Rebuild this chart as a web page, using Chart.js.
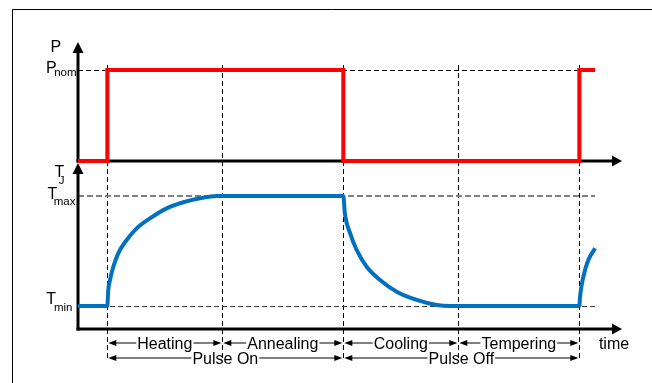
<!DOCTYPE html>
<html>
<head>
<meta charset="utf-8">
<script src="https://cdn.jsdelivr.net/npm/chart.js@4.4.1/dist/chart.umd.min.js"></script>
<style>
  html, body { margin: 0; padding: 0; background: #fff; }
</style>
</head>
<body>
<canvas id="pulseChart" width="652" height="383"></canvas>
<script>
"use strict";

// phase boundaries on the time axis: pulse on, heating end, pulse off, cooling end, next pulse
var phaseTimes = [2.55, 12.55, 23.07, 33.07, 43.59];
var phaseLabels = ["Heating", "Annealing", "Cooling", "Tempering"];
var pulseLabels = ["Pulse On", "Pulse Off"];

// power (0 = off, 1 = Pnom)
var powerTimes = [0, 2.55, 23.07, 43.59, 44.96];
var powerValues = [0, 1, 0, 1, 1];

// junction temperature (0 = Tmin, 1 = Tmax)
var tempTimes = [0, 2.55, 2.63, 2.78, 3.07, 3.5, 4.23, 5.1, 6.26, 7.71, 9.16, 10.61, 12.06,
  23.07, 23.2, 23.65, 24.23, 25.1, 26.26, 27.71, 29.45, 31.19, 32.35,
  43.59, 43.65, 43.94, 44.37, 44.96];
var tempValues = [0, 0, 0.145, 0.236, 0.357, 0.479, 0.6, 0.706, 0.797, 0.888, 0.943, 0.979, 1,
  1, 0.845, 0.664, 0.509, 0.357, 0.236, 0.13, 0.055, 0.009, 0,
  0, 0.085, 0.266, 0.418, 0.525];

// axis tick labels: [value, letter, subscript]
var powerTicks = [[1, "P", "nom"]];
var tempTicks = [[1, "T", "max"], [0, "T", "min"]];

var FONT = "'Liberation Sans', Arial, sans-serif";

function toPoints(xs, ys) {
  return xs.map(function(x, i) {
    return { x: x, y: ys[i] };
  });
}

function line(ctx, x1, y1, x2, y2) {
  ctx.beginPath();
  ctx.moveTo(x1, y1);
  ctx.lineTo(x2, y2);
  ctx.stroke();
}

// filled arrow head, tip at (x, y), pointing along (dx, dy)
function arrowHead(ctx, x, y, dx, dy, len, half) {
  var bx = x - dx * len;
  var by = y - dy * len;
  ctx.beginPath();
  ctx.moveTo(x, y);
  ctx.lineTo(bx - dy * half, by + dx * half);
  ctx.lineTo(bx + dy * half, by - dx * half);
  ctx.closePath();
  ctx.fill();
}

// letter with subscript; subscript right edge at subRight
function subLabel(ctx, main, sub, x, y, subRight, subY) {
  ctx.textBaseline = "alphabetic";
  ctx.font = "16px " + FONT;
  ctx.textAlign = "left";
  ctx.fillText(main, x, y);
  if (sub) {
    ctx.font = "11.5px " + FONT;
    ctx.textAlign = "right";
    ctx.fillText(sub, subRight, subY);
  }
}

// two-headed span arrow with a label in the middle
function spanArrow(ctx, x1, x2, y, text) {
  ctx.font = "16px " + FONT;
  var w = ctx.measureText(text).width;
  var cx = (x1 + x2) / 2;
  var a = x1 + 1;
  var b = x2 - 1;
  ctx.lineWidth = 1;
  line(ctx, a + 4, y, cx - w / 2 - 1, y);
  line(ctx, cx + w / 2 + 1, y, b - 4, y);
  arrowHead(ctx, a, y, -1, 0, 8, 3);
  arrowHead(ctx, b, y, 1, 0, 8, 3);
  ctx.textAlign = "center";
  ctx.textBaseline = "alphabetic";
  ctx.fillText(text, cx, y + 5.5);
}

var diagramPlugin = {
  id: "diagram",
  beforeDatasetsDraw: function(chart) {
    var ctx = chart.ctx;
    var area = chart.chartArea;
    var xs = chart.scales.x;
    var yP = chart.scales.yP;
    var yT = chart.scales.yT;
    var x0 = area.left;
    var pBase = yP.getPixelForValue(0);
    var xEnd = xs.getPixelForValue(powerTimes[powerTimes.length - 1]);

    ctx.save();
    // frame
    ctx.strokeStyle = "#000";
    ctx.lineWidth = 1;
    line(ctx, 12.5, 9.5, chart.width, 9.5);
    line(ctx, 12.5, 9.5, 12.5, chart.height);

    // dashed guides
    ctx.setLineDash([5, 3]);
    phaseTimes.forEach(function(t) {
      var x = Math.round(xs.getPixelForValue(t)) + 0.5;
      line(ctx, x, area.top + 23, x, area.bottom + 32);
    });
    var yNom = Math.round(yP.getPixelForValue(1)) + 0.5;
    line(ctx, x0, yNom, xEnd, yNom);
    ctx.strokeStyle = "#333";
    var yMin = Math.round(yT.getPixelForValue(0)) + 0.5;
    line(ctx, x0, yMin, xEnd, yMin);
    ctx.strokeStyle = "#808080";
    ctx.lineWidth = 2;
    ctx.setLineDash([6, 3]);
    var yMax = Math.round(yT.getPixelForValue(1));
    line(ctx, x0, yMax, xEnd, yMax);
    ctx.setLineDash([]);

    // axes with arrows
    ctx.strokeStyle = "#000";
    ctx.fillStyle = "#000";
    ctx.lineWidth = 3;
    line(ctx, x0, pBase + 1.5, x0, area.top + 9);
    arrowHead(ctx, x0, area.top, 0, -1, 11, 5.5);
    line(ctx, x0 - 1.5, pBase, area.right - 9, pBase);
    arrowHead(ctx, area.right, pBase, 1, 0, 10, 5.5);
    var tTop = pBase + 2;
    line(ctx, x0, area.bottom + 1.5, x0, tTop + 9);
    arrowHead(ctx, x0, tTop, 0, -1, 11, 5.5);
    line(ctx, x0 - 1.5, area.bottom, area.right - 9, area.bottom);
    arrowHead(ctx, area.right, area.bottom, 1, 0, 10, 5.5);
    ctx.restore();
  },
  afterDatasetsDraw: function(chart) {
    var ctx = chart.ctx;
    var area = chart.chartArea;
    var xs = chart.scales.x;
    var yP = chart.scales.yP;
    var yT = chart.scales.yT;
    var x0 = area.left;
    var pBase = yP.getPixelForValue(0);

    ctx.save();
    ctx.fillStyle = "#000";
    ctx.strokeStyle = "#000";

    // axis names
    subLabel(ctx, "P", null, x0 - 27.5, area.top + 9.5);
    subLabel(ctx, "T", "J", x0 - 23.5, pBase + 15.5, x0 - 13.5, pBase + 23);

    // level labels
    powerTicks.forEach(function(t) {
      var y = yP.getPixelForValue(t[0]);
      subLabel(ctx, t[1], t[2], x0 - 32, y + 2.5, x0 - 1.5, y + 6);
    });
    tempTicks.forEach(function(t, i) {
      var y = yT.getPixelForValue(t[0]);
      if (i === 0) {
        subLabel(ctx, t[1], t[2], x0 - 30.5, y + 3, x0 - 2.5, y + 9);
      } else {
        subLabel(ctx, t[1], t[2], x0 - 31.7, y - 2.5, x0 - 5.5, y + 5);
      }
    });

    // phase spans
    var px = phaseTimes.map(function(t) {
      return xs.getPixelForValue(t);
    });
    var row1 = area.bottom + 14;
    var row2 = area.bottom + 29;
    phaseLabels.forEach(function(label, i) {
      spanArrow(ctx, px[i], px[i + 1], row1, label);
    });
    pulseLabels.forEach(function(label, i) {
      spanArrow(ctx, px[i * 2], px[i * 2 + 2], row2, label);
    });

    ctx.font = "16px " + FONT;
    ctx.textAlign = "center";
    ctx.fillText("time", area.right - 8, row1 + 5.5);
    ctx.restore();
  }
};

new Chart(document.getElementById("pulseChart"), {
  type: "line",
  data: {
    datasets: [{
      label: "P",
      data: toPoints(powerTimes, powerValues),
      yAxisID: "yP",
      borderColor: "#ff0000",
      borderWidth: 4,
      stepped: "before",
      pointRadius: 0,
      fill: false
    }, {
      label: "TJ",
      data: toPoints(tempTimes, tempValues),
      yAxisID: "yT",
      borderColor: "#0070c0",
      borderWidth: 4,
      cubicInterpolationMode: "monotone",
      pointRadius: 0,
      fill: false
    }]
  },
  options: {
    responsive: false,
    animation: false,
    events: [],
    layout: {
      padding: { left: 78, right: 30, top: 42, bottom: 54 }
    },
    plugins: {
      legend: { display: false },
      tooltip: { enabled: false }
    },
    scales: {
      x: { type: "linear", display: false, min: 0, max: 47.3 },
      // power panel: 0 at y=161, Pnom at y=70
      yP: { type: "linear", display: false, min: -1.846, max: 1.308 },
      // temperature panel: Tmin at y=306, Tmax at y=196
      yT: { type: "linear", display: false, min: -0.209, max: 2.4 }
    }
  },
  plugins: [diagramPlugin]
});
</script>
</body>
</html>
